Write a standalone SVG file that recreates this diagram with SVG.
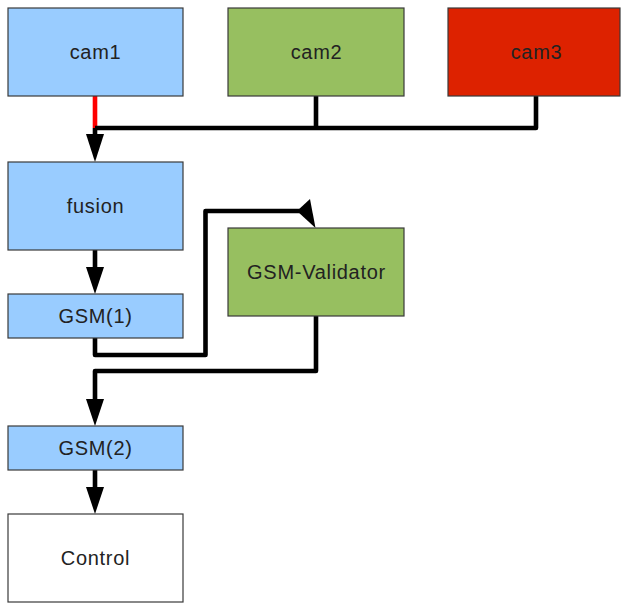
<svg xmlns="http://www.w3.org/2000/svg" width="621" height="604" viewBox="0 0 621 604">
<style>
.box{stroke:#3a3a3a;stroke-width:1.2}
.blue{fill:#99ccff}
.green{fill:#97bf60}
.red{fill:#dd2200}
.white{fill:#ffffff}
text{font-family:"Liberation Sans",Arial,sans-serif;font-size:20px;letter-spacing:0.7px;fill:#222;text-anchor:middle;dominant-baseline:central}
.ln{fill:none;stroke:#000;stroke-width:4.6;stroke-linejoin:round}
.ah{fill:#000}
</style>
<rect width="621" height="604" fill="#fff"/>
<g id="connectors">
<path class="ln" style="stroke:#ff0000" d="M95,96 V128"/>
<path class="ln" d="M95,128 H536 V96"/>
<path class="ln" d="M316,96 V128"/>
<path class="ln" d="M95,128 V138"/>
<polygon class="ah" points="86,134 104,134 95,162"/>
<path class="ln" d="M95,250 V270"/>
<polygon class="ah" points="86,267 104,267 95,294"/>
<path class="ln" d="M95,338 V355 H205.5 V211 H300"/>
<polygon class="ah" points="297,211 310,199 315.5,228"/>
<path class="ln" d="M316,316 V371 H95 V402"/>
<polygon class="ah" points="86,399 104,399 95,426"/>
<path class="ln" d="M95,470 V490"/>
<polygon class="ah" points="86,487 104,487 95,514"/>
</g>
<g id="cam1"><rect class="box blue" x="8" y="8" width="175" height="88"/><text x="95.5" y="52">cam1</text></g>
<g id="cam2"><rect class="box green" x="228" y="8" width="176" height="88"/><text x="316.5" y="52">cam2</text></g>
<g id="cam3"><rect class="box red" x="448" y="8" width="172" height="88"/><text x="536.5" y="52">cam3</text></g>
<g id="fusion"><rect class="box blue" x="8" y="162" width="175" height="88"/><text x="95.5" y="206">fusion</text></g>
<g id="gsm1"><rect class="box blue" x="8" y="294" width="175" height="44"/><text x="95.5" y="316">GSM(1)</text></g>
<g id="validator"><rect class="box green" x="228" y="228" width="176" height="88"/><text x="316.5" y="272">GSM-Validator</text></g>
<g id="gsm2"><rect class="box blue" x="8" y="426" width="175" height="44"/><text x="95.5" y="448">GSM(2)</text></g>
<g id="control"><rect class="box white" x="8" y="514" width="175" height="88"/><text x="95.5" y="558">Control</text></g>
</svg>
